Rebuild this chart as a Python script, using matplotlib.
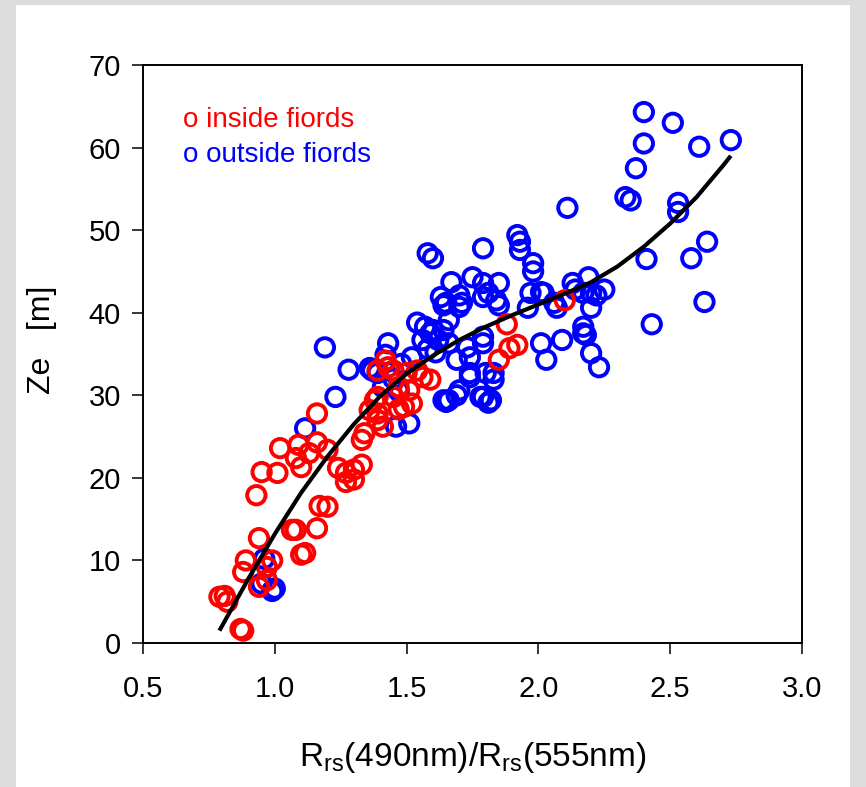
import numpy as np
import matplotlib
matplotlib.use("Agg")
import matplotlib.pyplot as plt
from matplotlib.patches import Rectangle

plt.rcParams['font.family'] = ['Liberation Sans', 'DejaVu Sans']
plt.rcParams['mathtext.default'] = 'regular'

# inside fiords (red)
inside_x = [0.79, 0.81, 0.82, 0.87, 0.88, 0.88, 0.89, 0.94, 0.94, 0.97, 0.97, 0.99,
            0.93, 0.95, 1.01, 1.02, 1.09, 1.08, 1.10, 1.13, 1.16, 1.20, 1.16,
            1.065, 1.08, 1.16, 1.115, 1.10, 1.17, 1.20,
            1.24, 1.27, 1.30, 1.33, 1.27, 1.30, 1.33,
            1.36, 1.38, 1.39, 1.39, 1.41, 1.34,
            1.39, 1.43, 1.45, 1.50, 1.54, 1.56, 1.59, 1.47, 1.51, 1.45, 1.49, 1.39,
            1.42, 1.47, 1.52,
            1.88, 1.92, 1.89, 1.85, 2.10]
inside_y = [5.6, 5.7, 5.0, 1.7, 1.5, 8.6, 10.0, 12.7, 6.8, 7.6, 9.2, 10.0,
            17.9, 20.7, 20.6, 23.6, 24.0, 22.4, 21.3, 23.0, 24.3, 23.4, 27.8,
            13.7, 13.7, 13.9, 10.9, 10.7, 16.6, 16.5,
            21.2, 20.6, 21.0, 21.6, 19.5, 19.8, 24.6,
            28.2, 29.4, 27.8, 27.0, 26.2, 25.4,
            33.0, 33.4, 33.0, 32.7, 33.0, 32.2, 31.9, 31.0, 30.6, 29.8, 28.6, 29.8,
            34.2, 28.3, 29.0,
            38.6, 36.1, 35.7, 34.3, 41.5]

# outside fiords (blue)
outside_x = [0.96, 0.95, 0.99, 1.00,
             1.115, 1.19, 1.28, 1.23, 1.36, 1.39, 1.43, 1.42, 1.37, 1.46, 1.51,
             1.48, 1.52, 1.47, 1.41, 1.45,
             1.54, 1.59, 1.62, 1.56, 1.64, 1.66, 1.65, 1.71, 1.63, 1.79,
             1.66, 1.73, 1.79, 1.69, 1.74, 1.80, 1.70, 1.66, 1.79, 1.81, 1.64,
             1.58, 1.60, 1.79, 1.92, 1.93, 1.93, 1.98, 1.98, 1.67, 1.75, 1.79, 1.85,
             1.70, 1.64, 1.70, 1.81, 1.84, 1.85, 1.97, 1.96, 2.02, 2.06,
             2.01, 2.03, 1.79, 1.74, 1.83, 1.74, 1.83, 1.78, 1.82, 1.69, 1.65, 2.09,
             2.13, 2.14, 2.19, 2.17, 2.20, 2.25, 2.22, 2.20, 2.01, 2.07,
             2.17, 2.18, 2.17, 2.20, 2.23, 2.41, 2.43,
             2.40, 2.51, 2.40, 2.61, 2.73, 2.37, 2.33, 2.35, 2.53, 2.53, 2.11,
             2.64, 2.58, 2.63,
             1.58, 1.61, 1.60, 1.57]
outside_y = [10.2, 7.2, 6.3, 6.6,
             26.0, 35.8, 33.1, 29.8, 33.3, 32.7, 36.3, 34.9, 33.0, 26.2, 26.6,
             33.8, 34.6, 30.5, 31.0, 32.0,
             38.8, 37.5, 36.7, 36.7, 37.9, 39.1, 41.2, 41.2, 41.9, 41.9,
             36.3, 35.8, 37.1, 34.3, 32.7, 32.7, 30.6, 29.4, 29.8, 29.1, 29.4,
             47.2, 46.6, 47.8, 49.4, 48.6, 47.6, 46.0, 45.0, 43.7, 44.3, 43.6, 43.6,
             42.1, 40.9, 40.7, 42.4, 41.5, 40.9, 42.4, 40.6, 42.4, 41.2,
             36.3, 34.3, 36.3, 34.6, 32.7, 32.2, 31.9, 29.8, 29.4, 30.0, 29.2, 36.7,
             43.6, 42.8, 44.3, 42.4, 42.4, 42.8, 42.1, 40.6, 42.5, 40.6,
             38.3, 37.3, 37.5, 35.1, 33.4, 46.5, 38.6,
             64.3, 63.0, 60.5, 60.1, 60.9, 57.5, 54.0, 53.6, 53.3, 52.2, 52.7,
             48.6, 46.6, 41.3,
             35.6, 35.2, 37.9, 38.3]

# trend curve
fit_x = [0.79, 0.9, 1.0, 1.1, 1.2, 1.3, 1.4, 1.5, 1.6, 1.7, 1.8, 1.9, 2.0,
         2.1, 2.2, 2.3, 2.4, 2.5, 2.6, 2.7, 2.73]
fit_y = [1.5, 7.8, 13.2, 18.2, 22.6, 26.5, 29.9, 32.6, 34.8, 36.7, 38.3, 39.7, 41.0,
         42.3, 43.7, 45.6, 48.0, 50.8, 54.0, 57.8, 59.0]

fig = plt.figure(figsize=(8.66, 7.87), dpi=100)
fig.patch.set_facecolor('#dcdcdc')
fig.patches.append(Rectangle((16 / 866, 0), (850 - 16) / 866, 1 - 5 / 787,
                             transform=fig.transFigure, facecolor='white',
                             edgecolor='none', zorder=-5))

ax = fig.add_axes([143 / 866, 1 - 643 / 787, (802 - 143) / 866, (643 - 65) / 787])
ax.set_zorder(1)

ax.scatter(outside_x, outside_y, s=175, facecolors='none', edgecolors='#0000ff',
           linewidths=2.8, zorder=2)
ax.scatter(inside_x, inside_y, s=175, facecolors='none', edgecolors='#ff0000',
           linewidths=2.8, zorder=3)
ax.plot(fit_x, fit_y, color='black', lw=3, solid_capstyle='butt', zorder=4)

ax.set_xlim(0.5, 3.0)
ax.set_ylim(0, 70)
ax.set_xticks([0.5, 1.0, 1.5, 2.0, 2.5, 3.0])
ax.set_xticklabels(['0.5', '1.0', '1.5', '2.0', '2.5', '3.0'])
ax.set_yticks(range(0, 71, 10))

for s in ax.spines.values():
    s.set_linewidth(1.4)
ax.tick_params(direction='out', length=8, width=1.1, labelsize=21)
ax.tick_params(axis='x', pad=15)
ax.tick_params(axis='y', pad=8)

ax.set_xlabel(r'$\mathregular{R_{rs}(490nm)/R_{rs}(555nm)}$', fontsize=24, labelpad=27)
ax.set_ylabel('Ze   [m]', fontsize=23)
ax.yaxis.set_label_coords(-0.13, 0.524)

ax.text(0.06, 0.905, 'o inside fiords', color='#ff0000', fontsize=20,
        transform=ax.transAxes, va='center')
ax.text(0.06, 0.845, 'o outside fiords', color='#0000ff', fontsize=20,
        transform=ax.transAxes, va='center')

fig.savefig('out.png', dpi=100, facecolor=fig.get_facecolor())
